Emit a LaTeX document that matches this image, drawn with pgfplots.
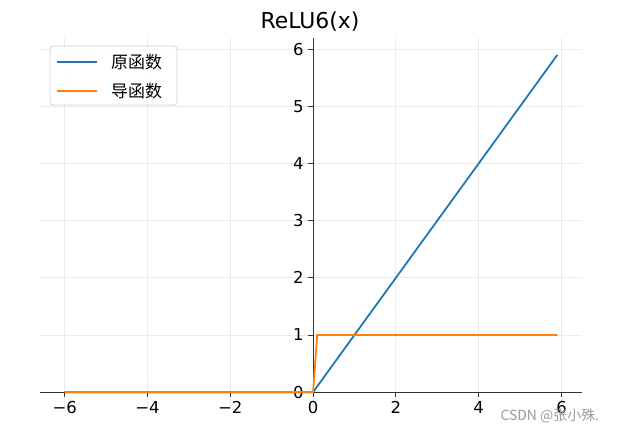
\documentclass[border=0pt]{standalone}
\usepackage{pgfplots}
\pgfplotsset{compat=1.18}
\usepackage{fontspec}
\setmainfont{DejaVu Sans}
\newfontfamily\cjk{Noto Sans CJK SC}
\definecolor{mblue}{HTML}{1F77B4}
\definecolor{morange}{HTML}{FF7F0E}
\begin{document}
\begin{tikzpicture}[x=1bp,y=1bp]
\useasboundingbox (0,0) rectangle (628,435);
\begin{axis}[
  at={(40bp,26bp)}, anchor=south west,
  width=542bp, height=371bp, scale only axis,
  xmin=-6.595, xmax=6.495, ymin=-0.295, ymax=6.195,
  axis lines=middle,
  axis line style={-, black!80, line width=0.9bp},
  every inner y axis line/.append style={shorten <=16.9bp},
  hide obscured x ticks=false, hide obscured y ticks=false,
  xtick={-6,-4,-2,0,2,4,6},
  xticklabels={−6,−4,−2,0,2,4,6},
  ytick={0,1,2,3,4,5,6},
  yticklabels={0,1,2,3,4,5,6},
  tick align=outside,
  major tick length=5bp,
  tick style={black!80, line width=0.9bp},
  ticklabel style={font=\fontsize{16.5}{18}\selectfont},
  xticklabel style={yshift=-1bp},
  yticklabel style={xshift=-1bp},
  grid=major,
  grid style={color=black!8, line width=0.9bp},
]
\addplot[mblue, line width=1.8bp] coordinates {(-6,0) (0,0) (5.9,5.9)};
\addplot[morange, line width=1.8bp] coordinates {(-6,0) (0,0) (0.1,1) (5.9,1)};
\end{axis}
% legend
\draw[black!18, line width=0.8bp, fill=white, fill opacity=0.8, rounded corners=3bp] (50,330) rectangle (177,389);
\draw[mblue, line width=1.8bp] (57,373) -- (97,373);
\draw[morange, line width=1.8bp] (57,344) -- (97,344);
\node[anchor=west, inner sep=0pt, font=\cjk\fontsize{17}{19}\selectfont] at (111,373) {原函数};
\node[anchor=west, inner sep=0pt, font=\cjk\fontsize{17}{19}\selectfont] at (111,344) {导函数};
\node[anchor=base, font=\fontsize{22}{26}\selectfont] at (310,406) {ReLU6(x)};
\node[anchor=west, text=black!40, font=\cjk\fontsize{14}{16}\selectfont] at (497,19) {CSDN @张小殊.};
\end{tikzpicture}
\end{document}
